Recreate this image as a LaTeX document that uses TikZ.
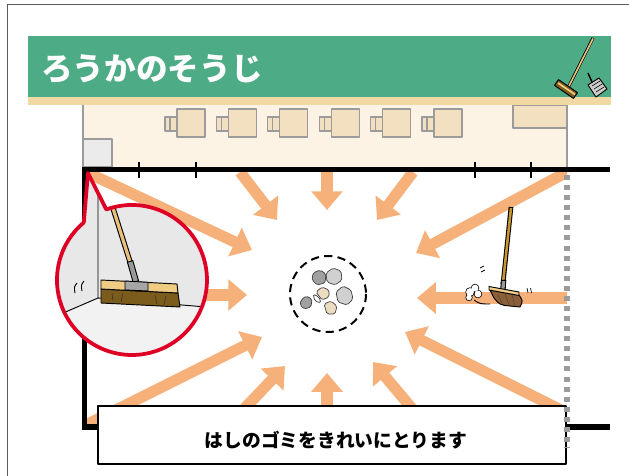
\documentclass[tikz,border=0pt]{standalone}
\usepackage{fontspec}
\newfontfamily\jp{Noto Sans CJK JP}
\usetikzlibrary{arrows.meta}

\definecolor{bargreen}{RGB}{77,171,133}
\definecolor{barline}{RGB}{241,217,164}
\definecolor{roomcream}{RGB}{253,243,228}
\definecolor{deskbeige}{RGB}{242,224,193}
\definecolor{sweeporange}{RGB}{246,177,122}
\definecolor{bubblered}{RGB}{223,0,38}
\definecolor{linegray}{RGB}{155,155,155}
\definecolor{framegray}{RGB}{90,90,90}
\definecolor{shadegray}{RGB}{232,232,232}
\definecolor{floorgray}{RGB}{242,242,242}
\definecolor{handletan}{RGB}{232,192,122}
\definecolor{blocktan}{RGB}{239,203,132}
\definecolor{handlegold}{RGB}{200,150,48}
\definecolor{bristle}{RGB}{124,92,28}
\definecolor{bristlered}{RGB}{140,95,55}
\definecolor{dustgray}{RGB}{160,160,160}
\definecolor{dustlight}{RGB}{208,208,208}
\definecolor{dustbeige}{RGB}{236,220,192}

\begin{document}
\begin{tikzpicture}[%
    x=0.03cm, y=-0.03cm,       % one unit is one pixel, y runs downwards
    line join=round,
    ]
% -------------------------------------------------
% Styles
\tikzset{
  wall/.style={line width=4.4pt, line join=miter},
  tick/.style={line width=1.4pt},
  desk/.style={draw=linegray, fill=deskbeige, line width=1pt},
  sweep/.style={draw=sweeporange, line width=9.5pt,
                -{Triangle[width=26pt,length=16pt]}},
  dust/.style={draw=black!75, line width=0.6pt, rounded corners=1.5pt},
  ink/.style={draw=black, line width=0.8pt},
  bubble/.style={insert path={(83.8,222.5) -- (88,173) -- (106.3,209.5)
                 arc[start angle=250, end angle=590, radius=75] -- cycle}},
  title/.style={font=\jp\bfseries\fontsize{27}{27}\selectfont, text=white, inner sep=0pt},
  caption/.style={font=\jp\bfseries\fontsize{16}{16}\selectfont, inner sep=0pt}
}
% -------------------------------------------------
% Page and frame
\fill[white] (0,0) rectangle (629,475);
\useasboundingbox (0,0) rectangle (629,475);
\draw[framegray, line width=1.2pt] (7.5,480) -- (7.5,4.5) -- (640,4.5);

% Classroom above the corridor
\fill[roomcream] (83,105) rectangle (567,167);
\draw[linegray, line width=1pt] (83,105) -- (83,167) (567,105) -- (567,172);
\filldraw[desk] (513,105) rectangle (567,128);
\filldraw[draw=linegray, fill=black!8, line width=1pt] (83,139) rectangle (112,167);
\foreach \i [evaluate=\i as \x using 165+51.4*\i] in {0,...,5}{
  \filldraw[desk] (\x,117) rectangle ++(12,14);   % chair
  \draw[linegray, line width=1pt] (\x+5,117) -- (\x+5,131);
  \filldraw[desk] (\x+12,109) rectangle ++(28,28); % desk
}

% Title bar
\fill[bargreen] (28,36) rectangle (611,97);
\fill[barline] (28,97) rectangle (611,105);
\node[title, anchor=west] (t) at (41,69) {ろうかのそうじ};

% small broom and dustpan in the bar
\draw[line width=2.6pt] (593,38) -- (569,86);
\draw[handletan, line width=1.4pt] (593,38.5) -- (569,86);
\filldraw[ink, fill=bristle] (554.5,85.4) -- (558.5,79.6) -- (577.5,92.6) -- (573.5,98.4) -- cycle;
\draw[blocktan, line width=1.5pt] (558,83) -- (575,94.5);
\draw[ink, line width=1.2pt] (592,82) -- (588,73);
\filldraw[ink, fill=black!20] (588,85) -- (599,78) -- (607,89) -- (596,97) -- cycle;
\draw[ink, line width=0.5pt] (592,86) -- (600,81) (594,89) -- (602,84) (596,92) -- (604,87);

% -------------------------------------------------
% Sweeping directions, all pointing at the pile
\begin{scope}
\clip (86,172) rectangle (567,426);
\draw[sweep] (86,172) -- (252,250);    % top left corner
\draw[sweep] (86,295) -- (247,295);    % left wall
\draw[sweep] (86,425) -- (262,337);    % bottom left corner
\draw[sweep] (222,432) -- (285,366);
\draw[sweep] (327,430) -- (327,373);
\draw[sweep] (430,430) -- (373,362);
\draw[sweep] (567,413) -- (405,332);   % bottom right
\draw[sweep] (567,298) -- (417,298);   % right side
\draw[sweep] (567,172) -- (416,253);   % top right corner
\draw[sweep] (413,172) -- (377,220);
\draw[sweep] (327,172) -- (327,210);
\draw[sweep] (240,172) -- (277,220);
\end{scope}

% Corridor walls
\draw[wall] (610,169.5) -- (84.5,169.5) -- (84.5,427) -- (610,427);
\foreach \tx in {139,196,475,531}
  \draw[tick] (\tx,162) -- (\tx,178);

% -------------------------------------------------
% Pile of dust
\draw[line width=1.7pt, dash pattern=on 7pt off 4.5pt] (328,294) circle[radius=38];
\filldraw[dust, fill=dustgray]  (313,273) -- (320,270) -- (326,274) -- (325,283) -- (317,285) -- (312,280) -- cycle;
\filldraw[dust, fill=dustlight] (326,273) -- (333,268) -- (341,271) -- (342,280) -- (335,285) -- (327,282) -- cycle;
\filldraw[dust, fill=dustgray]  (301,300) -- (306,296) -- (312,299) -- (311,307) -- (304,309) -- (300,305) -- cycle;
\filldraw[dust, fill=dustbeige] (316,292) -- (322,287) -- (329,290) -- (329,297) -- (322,300) -- cycle;
\filldraw[dust, fill=dustlight] (336,292) -- (343,286) -- (351,290) -- (353,299) -- (347,305) -- (338,302) -- cycle;
\filldraw[dust, fill=dustbeige] (324,304) -- (331,301) -- (337,306) -- (335,314) -- (327,314) -- cycle;
\filldraw[dust, fill=white]     (313,294) -- (319,297) -- (321,303) -- (315,301) -- cycle;

% Broom sweeping on the right
\draw[line width=4pt] (511,207) -- (503,284);
\draw[handlegold, line width=2.2pt] (511,208) -- (503,283);
\draw[line width=4.6pt] (503.6,280) -- (502.9,290);
\draw[black!40, line width=2.8pt] (503.6,281) -- (502.9,289);
\filldraw[ink, fill=bristlered] (490,290) -- (519,295) .. controls (523,301) .. (520,307) -- (510,306) .. controls (500,305) .. (494,298) -- cycle;
\draw[black!70, line width=0.5pt] (498,295) -- (502,303) (505,294) -- (509,305) (512,295) -- (515,306);
\filldraw[ink, fill=blocktan] (489,286.5) -- (519,292) -- (519,295.5) -- (489,290) -- cycle;
% dust cloud kicked up
\fill[black] (470,292) circle[radius=4.7] (475,288) circle[radius=4.2] (478,294) circle[radius=4.2] (469,297.5) circle[radius=3.6];
\fill[white] (470,292) circle[radius=3.9] (475,288) circle[radius=3.4] (478,294) circle[radius=3.4] (469,297.5) circle[radius=2.8];
\draw[ink] (474,300) .. controls (480,304) .. (490,304);
\draw[ink, line width=0.6pt] (480,268) -- (484,266) (481,272) -- (485,270);
\draw[ink, line width=0.6pt] (527,288) -- (528,293) (530.5,288) -- (531.5,293);

% -------------------------------------------------
% Close-up bubble of the corner
\fill[shadegray, bubble];
\begin{scope}
\clip[bubble];
\fill[floorgray] (98,298) -- (40,323) -- (40,370) -- (230,370) -- (230,309) -- cycle;
\draw[ink] (98,170) -- (98,298) -- (40,323) (98,298) -- (230,309);
% handle and ferrule
\draw[line width=4.6pt] (112,205) -- (131,265);
\draw[handletan, line width=2.8pt] (112,205) -- (131,265);
\draw[line width=5.6pt] (130,261) -- (136,282);
\draw[black!40, line width=3.8pt] (130.3,262) -- (135.7,281);
% head of the broom
\filldraw[ink, fill=bristle] (101,289) -- (178,293) -- (180,307) -- (101,303) -- cycle;
\draw[black!80, line width=0.5pt] (112,293) -- (113,301) (123,293) -- (121,302) (155,295) -- (157,304) (166,296) -- (164,305);
\filldraw[ink, fill=blocktan] (101,280) -- (177,284) -- (178,293) -- (101,289) -- cycle;
\filldraw[ink, fill=black!35] (125,281) -- (148,282.3) -- (148,291) -- (125,290) -- cycle;
% little motion marks
\draw[ink] (77,283) .. controls (74,287) .. (75,293);
\draw[ink] (84,281) .. controls (81,285) .. (82,291);
\end{scope}
\draw[bubblered, line width=3.2pt, bubble];

% -------------------------------------------------
% Caption
\filldraw[draw=black, fill=white, line width=1pt] (98,406) rectangle (566,464);
\node[caption] (c) at (336,440) {はしのゴミをきれいにとります};

% open side of the corridor
\draw[linegray, line width=4.3pt, dash pattern=on 4.3pt off 4.3pt] (567,175) -- (567,448);
\end{tikzpicture}
\end{document}
